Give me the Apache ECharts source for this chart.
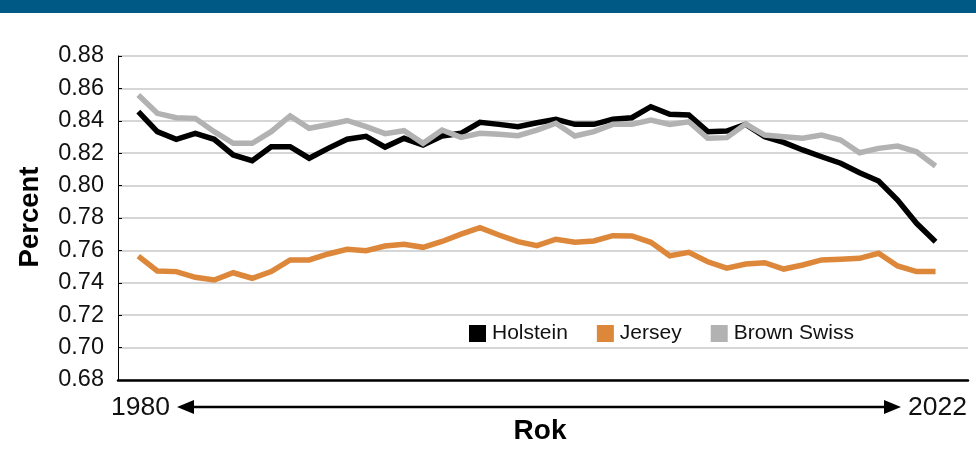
<!DOCTYPE html>
<html>
<head>
<meta charset="utf-8">
<script src="https://cdn.jsdelivr.net/npm/echarts@6/dist/echarts.min.js"></script>
<style>
  html, body { margin: 0; padding: 0; background: #fff; }
  #chart { width: 976px; height: 471px; }
</style>
</head>
<body>
<div id="chart"></div>
<script>
// Years on the x axis
const years = [
  1980, 1981, 1982, 1983, 1984, 1985, 1986, 1987, 1988, 1989,
  1990, 1991, 1992, 1993, 1994, 1995, 1996, 1997, 1998, 1999,
  2000, 2001, 2002, 2003, 2004, 2005, 2006, 2007, 2008, 2009,
  2010, 2011, 2012, 2013, 2014, 2015, 2016, 2017, 2018, 2019,
  2020, 2021, 2022
];

const seriesNames = ['Holstein', 'Jersey', 'Brown Swiss'];

const holstein = [
  0.8456, 0.8333, 0.8286, 0.8323, 0.8286, 0.8189, 0.8154, 0.8240, 0.8240, 0.8169,
  0.8230, 0.8286, 0.8304, 0.8238, 0.8292, 0.8251, 0.8306, 0.8323, 0.8391, 0.8378,
  0.8364, 0.8388, 0.8409, 0.8378, 0.8378, 0.8409, 0.8419, 0.8487, 0.8440, 0.8436,
  0.8333, 0.8337, 0.8378, 0.8302, 0.8267, 0.8220, 0.8178, 0.8138, 0.8080, 0.8028,
  0.7911, 0.7767, 0.7654
];

const jersey = [
  0.7565, 0.7473, 0.7469, 0.7434, 0.7417, 0.7462, 0.7428, 0.7469, 0.7541, 0.7541,
  0.7578, 0.7607, 0.7598, 0.7627, 0.7638, 0.7619, 0.7655, 0.7700, 0.7740, 0.7695,
  0.7654, 0.7629, 0.7669, 0.7650, 0.7658, 0.7691, 0.7689, 0.7650, 0.7567, 0.7588,
  0.7530, 0.7490, 0.7516, 0.7524, 0.7485, 0.7510, 0.7541, 0.7545, 0.7551, 0.7582,
  0.7504, 0.7469, 0.7469
];

const brownSwiss = [
  0.8559, 0.8446, 0.8419, 0.8415, 0.8333, 0.8261, 0.8261, 0.8333, 0.8430, 0.8354,
  0.8376, 0.8402, 0.8364, 0.8321, 0.8339, 0.8261, 0.8343, 0.8298, 0.8323, 0.8317,
  0.8308, 0.8343, 0.8385, 0.8306, 0.8333, 0.8378, 0.8378, 0.8405, 0.8378, 0.8394,
  0.8292, 0.8296, 0.8380, 0.8312, 0.8302, 0.8292, 0.8312, 0.8281, 0.8203, 0.8230,
  0.8244, 0.8209, 0.8121
];

// Y axis ticks
const yMin = 0.68, yMax = 0.88, yStep = 0.02;

const colors = ['#000000', '#dd873b', '#b2b2b2'];
const FONT = '"Liberation Sans", Arial, Helvetica, sans-serif';

function pairs(vals) {
  return vals.map((v, i) => [years[i], v]);
}

const chart = echarts.init(document.getElementById('chart'), null, { renderer: 'canvas' });

chart.setOption({
  animation: false,
  backgroundColor: '#ffffff',
  grid: { left: 118, right: 8, top: 56, bottom: 91, containLabel: false },
  xAxis: {
    type: 'value',
    min: 1978.93,
    max: 2023.71,
    axisLine: { show: true, onZero: false, lineStyle: { color: '#000', width: 2.5 } },
    axisTick: { show: false },
    axisLabel: { show: false },
    splitLine: { show: false }
  },
  yAxis: {
    type: 'value',
    min: yMin,
    max: yMax,
    interval: yStep,
    axisLine: { show: true, lineStyle: { color: '#000', width: 1 } },
    axisTick: { show: true, inside: true, length: 4, lineStyle: { color: '#000', width: 1 } },
    axisLabel: {
      formatter: v => v.toFixed(2),
      fontFamily: FONT,
      fontSize: 23.5,
      color: '#111',
      margin: 14
    },
    splitLine: { show: true, lineStyle: { color: '#c8c8c8', width: 1.5 } }
  },
  legend: {
    left: 469,
    top: 323,
    padding: 0,
    icon: 'rect',
    itemWidth: 17,
    itemHeight: 17,
    itemGap: 29,
    textStyle: { fontFamily: FONT, fontSize: 21, color: '#111', padding: [0, 0, 0, 1] },
    data: seriesNames
  },
  series: [
    { name: seriesNames[0], data: pairs(holstein), color: colors[0] },
    { name: seriesNames[1], data: pairs(jersey), color: colors[1] },
    { name: seriesNames[2], data: pairs(brownSwiss), color: colors[2] }
  ].map(s => Object.assign({
    type: 'line',
    symbol: 'none',
    lineStyle: { width: 5.5, color: s.color, join: 'miter' },
    itemStyle: { color: s.color }
  }, s)),
  graphic: [
    // header band
    { type: 'rect', shape: { x: 0, y: 0, width: 976, height: 13 }, style: { fill: '#005985' } },
    // timeline arrow under the plot
    { type: 'line', shape: { x1: 190, y1: 407, x2: 888, y2: 407 }, style: { stroke: '#000', lineWidth: 2.5 } },
    { type: 'polygon', shape: { points: [[177, 407], [194, 400], [194, 414]] }, style: { fill: '#000' } },
    { type: 'polygon', shape: { points: [[901, 407], [884, 400], [884, 414]] }, style: { fill: '#000' } },
    { type: 'text', style: { text: String(years[0]), x: 170, y: 408, align: 'right', verticalAlign: 'middle',
        font: '26.5px ' + FONT, fill: '#111' } },
    { type: 'text', style: { text: String(years[years.length - 1]), x: 908, y: 408, align: 'left', verticalAlign: 'middle',
        font: '26.5px ' + FONT, fill: '#111' } },
    { type: 'text', style: { text: 'Rok', x: 540, y: 431, align: 'center', verticalAlign: 'middle',
        font: 'bold 28px ' + FONT, fill: '#000' } },
    { type: 'text', rotation: Math.PI / 2, x: 30, y: 217,
      style: { text: 'Percent', x: 0, y: 0, align: 'center', verticalAlign: 'middle',
        font: 'bold 27.5px ' + FONT, fill: '#000' } }
  ]
});
</script>
</body>
</html>
